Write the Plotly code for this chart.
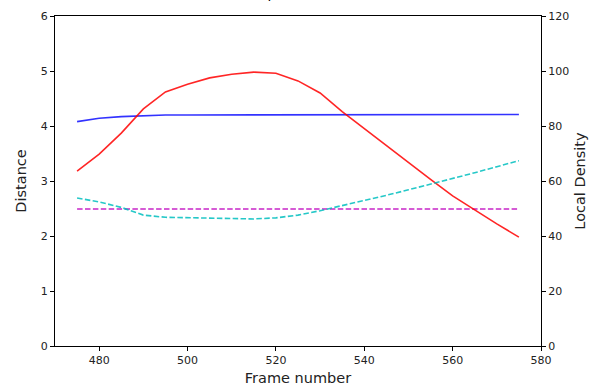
import plotly.graph_objects as go

frames = [475, 480, 485, 490, 495, 500, 505, 510, 515, 520, 525,
          530, 535, 540, 545, 550, 555, 560, 565, 570, 575]
distance_blue = [4.08, 4.14, 4.17, 4.19, 4.20, 4.20, 4.20, 4.20, 4.21, 4.21, 4.21,
                 4.21, 4.21, 4.21, 4.21, 4.21, 4.21, 4.21, 4.21, 4.21, 4.21]
distance_threshold = [2.49] * len(frames)
density_red = [63.6, 69.8, 77.4, 86.2, 92.4, 95.2, 97.5, 98.8, 99.6, 99.2, 96.4,
               92.0, 85.2, 79.0, 72.8, 66.6, 60.6, 54.6, 49.4, 44.4, 39.6]
density_cyan = [53.8, 52.4, 50.4, 47.6, 46.8, 46.6, 46.4, 46.2, 46.2, 46.6, 47.6,
                49.2, 51.0, 52.8, 54.8, 56.8, 58.8, 60.8, 63.0, 65.2, 67.4]

x_ticks = [480, 500, 520, 540, 560, 580]
y_ticks = [0, 1, 2, 3, 4, 5, 6]
y2_ticks = [0, 20, 40, 60, 80, 100, 120]

dash = "5.5px,2.4px"
fig = go.Figure()
fig.add_trace(go.Scatter(x=frames, y=distance_blue, mode="lines",
                         line=dict(color="#0000ff", width=1.6), opacity=0.8))
fig.add_trace(go.Scatter(x=frames, y=distance_threshold, mode="lines",
                         line=dict(color="#bf00bf", width=1.6, dash=dash), opacity=0.85))
fig.add_trace(go.Scatter(x=frames, y=density_red, mode="lines", yaxis="y2",
                         line=dict(color="#ff0000", width=1.6), opacity=0.85))
fig.add_trace(go.Scatter(x=frames, y=density_cyan, mode="lines", yaxis="y2",
                         line=dict(color="#00bfbf", width=1.6, dash=dash), opacity=0.85))

axis_common = dict(showgrid=False, zeroline=False, showline=True, linecolor="black",
                   linewidth=1, ticks="outside", ticklen=4, tickcolor="black",
                   automargin=False,
                   tickfont=dict(family="DejaVu Sans", size=11, color="#222"))

fig.update_layout(
    width=602, height=388,
    margin=dict(l=55, r=61, t=16, b=42, autoexpand=False),
    paper_bgcolor="white", plot_bgcolor="white",
    showlegend=False,
    font=dict(family="DejaVu Sans", color="#222"),
    xaxis=dict(range=[470, 580], tickvals=x_ticks, mirror=True,
               title=dict(text="Frame number", font=dict(size=14.5), standoff=6),
               **axis_common),
    yaxis=dict(range=[0, 6], tickvals=y_ticks,
               title=dict(text="Distance", font=dict(size=14.5), standoff=10),
               **axis_common),
    yaxis2=dict(range=[0, 120], tickvals=y2_ticks, overlaying="y", side="right",
                title=dict(text="Local Density", font=dict(size=14.5), standoff=6),
                **axis_common),
)

fig.add_annotation(text="(c) Example", xref="paper", yref="paper",
                   x=(203 - 55) / 486, xanchor="left", y=1 + 13 / 330, yanchor="bottom",
                   showarrow=False, font=dict(family="DejaVu Sans", size=14, color="black"))

fig.write_html("out.html", config={"displayModeBar": False},
               post_script="document.body.style.margin='0px';")
